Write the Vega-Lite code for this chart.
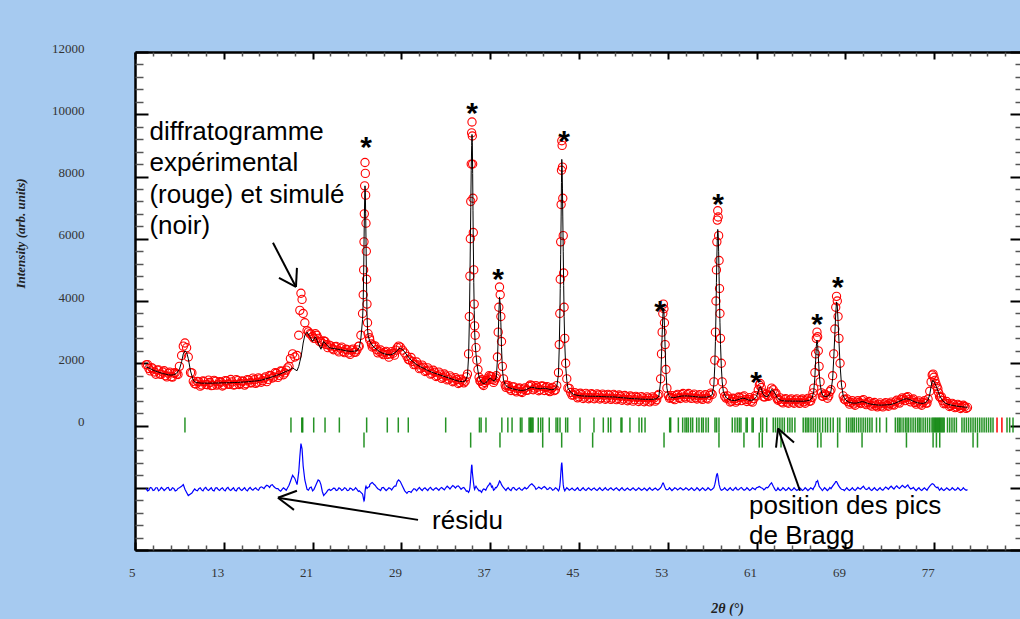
{
  "$schema": "https://vega.github.io/schema/vega-lite/v6.json",
  "width": 885,
  "height": 498,
  "autosize": {"type": "none"},
  "padding": {"left": 135, "top": 52, "right": 0, "bottom": 69},
  "config": {
    "background": "#a6caf0",
    "view": {"fill": "white", "stroke": null},
    "axis": {"grid": false}
  },
  "datasets": {
    "pat": [
      {"t":6.0,"o":1950,"c":1880,"d":-2020},{"t":6.25,"o":1830,"c":1850,"d":-2080},{"t":6.5,"o":1860,"c":1800,"d":-2010},{"t":6.75,"o":1720,"c":1760,"d":-2070},
      {"t":7.0,"o":1780,"c":1730,"d":-2000},{"t":7.25,"o":1650,"c":1700,"d":-2060},{"t":7.5,"o":1720,"c":1670,"d":-2030},{"t":7.75,"o":1600,"c":1650,"d":-2050},
      {"t":8.0,"o":1680,"c":1630,"d":-1990},{"t":8.25,"o":1570,"c":1620,"d":-2070},{"t":8.5,"o":1680,"c":1630,"d":-2020},{"t":8.75,"o":1650,"c":1680,"d":-2080},
      {"t":9.0,"o":1900,"c":1800,"d":-2000},{"t":9.2,"o":2250,"c":2050,"d":-1950},{"t":9.35,"o":2550,"c":2300,"d":-1900},{"t":9.5,"o":2650,"c":2400,"d":-2050},
      {"t":9.65,"o":2500,"c":2350,"d":-2150},{"t":9.8,"o":2200,"c":2150,"d":-2250},{"t":10.0,"o":1700,"c":1750,"d":-2200},{"t":10.25,"o":1420,"c":1450,"d":-2100},
      {"t":10.5,"o":1330,"c":1380,"d":-2080},{"t":10.75,"o":1400,"c":1370,"d":-2030},{"t":11.0,"o":1300,"c":1360,"d":-2070},{"t":11.25,"o":1410,"c":1360,"d":-2020},
      {"t":11.5,"o":1310,"c":1360,"d":-2060},{"t":11.75,"o":1380,"c":1360,"d":-2040},{"t":12.0,"o":1290,"c":1360,"d":-2080},{"t":12.25,"o":1420,"c":1365,"d":-2010},
      {"t":12.5,"o":1330,"c":1365,"d":-2060},{"t":12.75,"o":1390,"c":1370,"d":-2030},{"t":13.0,"o":1300,"c":1370,"d":-2070},{"t":13.25,"o":1430,"c":1372,"d":-2020},
      {"t":13.5,"o":1320,"c":1375,"d":-2060},{"t":13.75,"o":1400,"c":1378,"d":-2040},{"t":14.0,"o":1310,"c":1380,"d":-2080},{"t":14.25,"o":1440,"c":1385,"d":-2020},
      {"t":14.5,"o":1350,"c":1390,"d":-2060},{"t":14.75,"o":1420,"c":1395,"d":-2040},{"t":15.0,"o":1340,"c":1400,"d":-2070},{"t":15.25,"o":1460,"c":1410,"d":-2030},
      {"t":15.5,"o":1370,"c":1420,"d":-2050},{"t":15.75,"o":1470,"c":1428,"d":-2030},{"t":16.0,"o":1390,"c":1435,"d":-2060},{"t":16.25,"o":1500,"c":1450,"d":-2000},
      {"t":16.5,"o":1440,"c":1470,"d":-1990},{"t":16.75,"o":1560,"c":1495,"d":-1960},{"t":17.0,"o":1480,"c":1520,"d":-1940},{"t":17.25,"o":1600,"c":1550,"d":-1920},
      {"t":17.5,"o":1560,"c":1580,"d":-1960},{"t":17.75,"o":1680,"c":1610,"d":-2030},{"t":18.0,"o":1610,"c":1640,"d":-2080},{"t":18.25,"o":1740,"c":1680,"d":-2050},
      {"t":18.5,"o":1690,"c":1720,"d":-2040},{"t":18.75,"o":1850,"c":1760,"d":-2000},{"t":19.0,"o":2150,"c":1800,"d":-1800},{"t":19.2,"o":2300,"c":1850,"d":-1600},
      {"t":19.4,"o":2200,"c":1800,"d":-1700},{"t":19.6,"o":2250,"c":1760,"d":-1900},{"t":19.75,"o":2900,"c":1900,"d":-1500},{"t":19.85,"o":3700,"c":2050,"d":-1000},
      {"t":19.95,"o":4250,"c":2200,"d":-580},{"t":20.05,"o":4050,"c":2400,"d":-750},{"t":20.15,"o":3600,"c":2650,"d":-1300},{"t":20.3,"o":3300,"c":2900,"d":-1750},
      {"t":20.5,"o":3050,"c":3000,"d":-2050},{"t":20.75,"o":2950,"c":2850,"d":-2000},{"t":21.0,"o":2850,"c":2700,"d":-2100},{"t":21.25,"o":2950,"c":2850,"d":-1950},
      {"t":21.5,"o":2800,"c":2650,"d":-1750},{"t":21.75,"o":2700,"c":2450,"d":-1900},{"t":22.0,"o":2720,"c":2700,"d":-2250},{"t":22.25,"o":2600,"c":2600,"d":-2150},
      {"t":22.5,"o":2580,"c":2500,"d":-2050},{"t":22.75,"o":2480,"c":2480,"d":-2060},{"t":23.0,"o":2530,"c":2470,"d":-2020},{"t":23.25,"o":2420,"c":2450,"d":-2070},
      {"t":23.5,"o":2480,"c":2440,"d":-2030},{"t":23.75,"o":2380,"c":2420,"d":-2060},{"t":24.0,"o":2450,"c":2400,"d":-2020},{"t":24.25,"o":2330,"c":2390,"d":-2080},
      {"t":24.5,"o":2420,"c":2380,"d":-2030},{"t":24.75,"o":2350,"c":2390,"d":-2060},{"t":25.0,"o":2430,"c":2400,"d":-2050},{"t":25.2,"o":2550,"c":2500,"d":-2100},
      {"t":25.35,"o":2900,"c":2800,"d":-2150},{"t":25.5,"o":3600,"c":3400,"d":-2200},{"t":25.56,"o":4200,"c":4000,"d":-2300},{"t":25.6,"o":5000,"c":4900,"d":-2380},
      {"t":25.63,"o":5900,"c":5800,"d":-2420},{"t":25.66,"o":6800,"c":6600,"d":-2400},{"t":25.69,"o":7700,"c":7300,"d":-2300},{"t":25.72,"o":8450,"c":7700,"d":-2150},
      {"t":25.75,"o":8100,"c":7500,"d":-2050},{"t":25.78,"o":7400,"c":6800,"d":-1980},{"t":25.81,"o":6500,"c":6000,"d":-1950},{"t":25.84,"o":5600,"c":5100,"d":-1980},
      {"t":25.87,"o":4700,"c":4300,"d":-2000},{"t":25.9,"o":3900,"c":3600,"d":-2020},{"t":25.95,"o":3300,"c":3100,"d":-2000},{"t":26.0,"o":2950,"c":2900,"d":-1980},
      {"t":26.15,"o":2750,"c":2700,"d":-1900},{"t":26.3,"o":2620,"c":2620,"d":-1850},{"t":26.5,"o":2550,"c":2520,"d":-1880},{"t":26.75,"o":2440,"c":2450,"d":-1980},
      {"t":27.0,"o":2380,"c":2380,"d":-2060},{"t":27.25,"o":2320,"c":2330,"d":-2000},{"t":27.5,"o":2350,"c":2300,"d":-2040},{"t":27.75,"o":2280,"c":2280,"d":-2050},
      {"t":28.0,"o":2300,"c":2270,"d":-2020},{"t":28.25,"o":2320,"c":2300,"d":-2000},{"t":28.5,"o":2420,"c":2360,"d":-1950},{"t":28.75,"o":2550,"c":2460,"d":-1750},
      {"t":28.9,"o":2520,"c":2480,"d":-1800},{"t":29.1,"o":2420,"c":2440,"d":-1950},{"t":29.3,"o":2330,"c":2360,"d":-2100},{"t":29.5,"o":2220,"c":2260,"d":-2180},
      {"t":29.75,"o":2100,"c":2150,"d":-2120},{"t":30.0,"o":2060,"c":2060,"d":-2080},{"t":30.25,"o":1960,"c":1990,"d":-2050},{"t":30.5,"o":1950,"c":1930,"d":-2040},
      {"t":30.75,"o":1850,"c":1880,"d":-2050},{"t":31.0,"o":1870,"c":1840,"d":-2030},{"t":31.25,"o":1760,"c":1790,"d":-2050},{"t":31.5,"o":1780,"c":1750,"d":-2020},
      {"t":31.75,"o":1670,"c":1710,"d":-2050},{"t":32.0,"o":1710,"c":1680,"d":-2030},{"t":32.25,"o":1600,"c":1650,"d":-2040},{"t":32.5,"o":1650,"c":1620,"d":-2020},
      {"t":32.75,"o":1550,"c":1590,"d":-2030},{"t":33.0,"o":1590,"c":1560,"d":-2000},{"t":33.25,"o":1490,"c":1530,"d":-1990},{"t":33.5,"o":1530,"c":1500,"d":-1980},
      {"t":33.75,"o":1430,"c":1470,"d":-1960},{"t":34.0,"o":1470,"c":1440,"d":-1950},{"t":34.25,"o":1380,"c":1420,"d":-1990},{"t":34.5,"o":1430,"c":1410,"d":-2010},
      {"t":34.75,"o":1420,"c":1430,"d":-2050},{"t":34.95,"o":1650,"c":1600,"d":-2100},{"t":35.05,"o":2300,"c":2200,"d":-2150},{"t":35.12,"o":3500,"c":3300,"d":-2100},
      {"t":35.17,"o":4800,"c":4600,"d":-2000},{"t":35.21,"o":6000,"c":5800,"d":-1850},{"t":35.25,"o":7200,"c":7000,"d":-1650},{"t":35.29,"o":8400,"c":8200,"d":-1450},
      {"t":35.33,"o":9400,"c":9000,"d":-1260},{"t":35.36,"o":9750,"c":9350,"d":-1300},{"t":35.39,"o":9300,"c":9100,"d":-1500},{"t":35.42,"o":8400,"c":8100,"d":-1600},
      {"t":35.45,"o":7300,"c":6900,"d":-1700},{"t":35.48,"o":6200,"c":5800,"d":-1800},{"t":35.52,"o":5000,"c":4600,"d":-1900},{"t":35.56,"o":3900,"c":3700,"d":-2000},
      {"t":35.6,"o":3200,"c":3000,"d":-2050},{"t":35.65,"o":2900,"c":2600,"d":-2000},{"t":35.72,"o":2500,"c":2300,"d":-1950},{"t":35.8,"o":2100,"c":2000,"d":-2000},
      {"t":35.9,"o":1800,"c":1750,"d":-2050},{"t":36.0,"o":1550,"c":1550,"d":-2100},{"t":36.15,"o":1420,"c":1430,"d":-2120},{"t":36.3,"o":1330,"c":1360,"d":-2080},
      {"t":36.5,"o":1380,"c":1350,"d":-2050},{"t":36.7,"o":1450,"c":1400,"d":-2000},{"t":36.9,"o":1600,"c":1500,"d":-1900},{"t":37.05,"o":1580,"c":1520,"d":-1880},
      {"t":37.2,"o":1480,"c":1460,"d":-1950},{"t":37.4,"o":1450,"c":1430,"d":-2050},{"t":37.55,"o":1600,"c":1550,"d":-2000},{"t":37.65,"o":2200,"c":2100,"d":-1950},
      {"t":37.72,"o":3000,"c":2800,"d":-1900},{"t":37.78,"o":3800,"c":3600,"d":-1850},{"t":37.84,"o":4450,"c":4130,"d":-1780},{"t":37.9,"o":4200,"c":3900,"d":-1800},
      {"t":37.96,"o":3500,"c":3300,"d":-1850},{"t":38.02,"o":2700,"c":2500,"d":-1900},{"t":38.1,"o":1900,"c":1800,"d":-1950},{"t":38.2,"o":1500,"c":1450,"d":-2000},
      {"t":38.35,"o":1300,"c":1320,"d":-2060},{"t":38.5,"o":1280,"c":1250,"d":-2040},{"t":38.75,"o":1180,"c":1210,"d":-2060},{"t":39.0,"o":1240,"c":1180,"d":-2010},
      {"t":39.25,"o":1120,"c":1160,"d":-2050},{"t":39.5,"o":1180,"c":1140,"d":-2030},{"t":39.75,"o":1090,"c":1130,"d":-2060},{"t":40.0,"o":1170,"c":1130,"d":-2030},
      {"t":40.25,"o":1130,"c":1150,"d":-2040},{"t":40.5,"o":1260,"c":1200,"d":-1950},{"t":40.75,"o":1280,"c":1230,"d":-1870},{"t":41.0,"o":1200,"c":1210,"d":-1960},
      {"t":41.25,"o":1230,"c":1190,"d":-2020},{"t":41.5,"o":1150,"c":1180,"d":-2010},{"t":41.75,"o":1260,"c":1200,"d":-1990},{"t":42.0,"o":1220,"c":1190,"d":-2000},
      {"t":42.25,"o":1130,"c":1170,"d":-2040},{"t":42.5,"o":1180,"c":1150,"d":-2020},{"t":42.75,"o":1120,"c":1160,"d":-2060},{"t":43.0,"o":1280,"c":1250,"d":-2030},
      {"t":43.15,"o":1700,"c":1650,"d":-2100},{"t":43.22,"o":2600,"c":2500,"d":-2050},{"t":43.27,"o":3600,"c":3400,"d":-1950},{"t":43.31,"o":4700,"c":4400,"d":-1800},
      {"t":43.35,"o":5900,"c":5500,"d":-1600},{"t":43.39,"o":7100,"c":6700,"d":-1400},{"t":43.42,"o":8200,"c":7800,"d":-1250},{"t":43.45,"o":9150,"c":8550,"d":-1190},
      {"t":43.48,"o":9000,"c":8300,"d":-1300},{"t":43.51,"o":8300,"c":7600,"d":-1500},{"t":43.54,"o":7300,"c":6700,"d":-1700},{"t":43.58,"o":6100,"c":5600,"d":-1900},
      {"t":43.62,"o":4900,"c":4500,"d":-2000},{"t":43.66,"o":3800,"c":3500,"d":-2050},{"t":43.72,"o":2800,"c":2600,"d":-2100},{"t":43.8,"o":2000,"c":1900,"d":-2050},
      {"t":43.9,"o":1500,"c":1450,"d":-2000},{"t":44.0,"o":1200,"c":1200,"d":-2030},{"t":44.25,"o":1060,"c":1070,"d":-2050},{"t":44.5,"o":980,"c":1000,"d":-2060},
      {"t":44.75,"o":1010,"c":975,"d":-2040},{"t":45.0,"o":920,"c":960,"d":-2070},{"t":45.25,"o":990,"c":950,"d":-2040},{"t":45.5,"o":910,"c":945,"d":-2060},
      {"t":45.75,"o":985,"c":940,"d":-2040},{"t":46.0,"o":900,"c":940,"d":-2050},{"t":46.25,"o":990,"c":940,"d":-2030},{"t":46.5,"o":910,"c":935,"d":-2060},
      {"t":46.75,"o":980,"c":935,"d":-2040},{"t":47.0,"o":890,"c":930,"d":-2060},{"t":47.25,"o":970,"c":925,"d":-2040},{"t":47.5,"o":880,"c":922,"d":-2060},
      {"t":47.75,"o":970,"c":920,"d":-2030},{"t":48.0,"o":880,"c":920,"d":-2050},{"t":48.25,"o":960,"c":915,"d":-2030},{"t":48.5,"o":870,"c":905,"d":-2050},
      {"t":48.75,"o":940,"c":895,"d":-2040},{"t":49.0,"o":850,"c":890,"d":-2060},{"t":49.25,"o":920,"c":880,"d":-2040},{"t":49.5,"o":840,"c":872,"d":-2060},
      {"t":49.75,"o":910,"c":865,"d":-2040},{"t":50.0,"o":830,"c":860,"d":-2050},{"t":50.25,"o":900,"c":855,"d":-2050},{"t":50.5,"o":820,"c":850,"d":-2040},
      {"t":50.75,"o":890,"c":845,"d":-2060},{"t":51.0,"o":810,"c":840,"d":-2050},{"t":51.25,"o":880,"c":840,"d":-2040},{"t":51.5,"o":810,"c":840,"d":-2060},
      {"t":51.75,"o":880,"c":845,"d":-2040},{"t":52.0,"o":830,"c":860,"d":-2050},{"t":52.2,"o":1000,"c":950,"d":-2050},{"t":52.35,"o":1500,"c":1400,"d":-2000},
      {"t":52.43,"o":2300,"c":2200,"d":-1950},{"t":52.49,"o":3000,"c":2900,"d":-1900},{"t":52.55,"o":3600,"c":3500,"d":-1850},{"t":52.6,"o":3900,"c":3770,"d":-1850},
      {"t":52.65,"o":3750,"c":3650,"d":-1900},{"t":52.7,"o":3300,"c":3200,"d":-1950},{"t":52.76,"o":2600,"c":2500,"d":-2000},{"t":52.83,"o":1800,"c":1750,"d":-2050},
      {"t":52.92,"o":1200,"c":1200,"d":-2070},{"t":53.05,"o":960,"c":980,"d":-2050},{"t":53.25,"o":900,"c":910,"d":-2040},{"t":53.5,"o":870,"c":890,"d":-2050},
      {"t":53.75,"o":960,"c":910,"d":-2020},{"t":54.0,"o":900,"c":930,"d":-2040},{"t":54.25,"o":990,"c":945,"d":-2030},{"t":54.5,"o":920,"c":950,"d":-2050},
      {"t":54.75,"o":990,"c":950,"d":-2030},{"t":55.0,"o":910,"c":945,"d":-2050},{"t":55.25,"o":970,"c":935,"d":-2040},{"t":55.5,"o":890,"c":925,"d":-2060},
      {"t":55.75,"o":950,"c":915,"d":-2040},{"t":56.0,"o":880,"c":910,"d":-2050},{"t":56.25,"o":950,"c":910,"d":-2040},{"t":56.5,"o":880,"c":915,"d":-2060},
      {"t":56.75,"o":970,"c":930,"d":-2040},{"t":57.0,"o":1000,"c":990,"d":-2050},{"t":57.15,"o":1400,"c":1300,"d":-2000},{"t":57.23,"o":2100,"c":1900,"d":-1900},
      {"t":57.29,"o":3000,"c":2700,"d":-1800},{"t":57.34,"o":4000,"c":3600,"d":-1700},{"t":57.38,"o":5000,"c":4600,"d":-1620},{"t":57.42,"o":5900,"c":5400,"d":-1560},
      {"t":57.46,"o":6600,"c":6000,"d":-1550},{"t":57.5,"o":6900,"c":6300,"d":-1600},{"t":57.54,"o":6700,"c":6150,"d":-1700},{"t":57.58,"o":6100,"c":5600,"d":-1800},
      {"t":57.62,"o":5300,"c":4800,"d":-1900},{"t":57.66,"o":4400,"c":4000,"d":-1950},{"t":57.7,"o":3600,"c":3300,"d":-2000},{"t":57.75,"o":2800,"c":2600,"d":-2050},
      {"t":57.82,"o":2000,"c":1900,"d":-2080},{"t":57.9,"o":1400,"c":1400,"d":-2070},{"t":58.0,"o":1100,"c":1100,"d":-2050},{"t":58.25,"o":880,"c":900,"d":-2060},
      {"t":58.5,"o":850,"c":840,"d":-2040},{"t":58.75,"o":780,"c":810,"d":-2060},{"t":59.0,"o":850,"c":800,"d":-2030},{"t":59.25,"o":800,"c":820,"d":-2060},
      {"t":59.5,"o":900,"c":850,"d":-2020},{"t":59.75,"o":920,"c":880,"d":-2040},{"t":60.0,"o":830,"c":860,"d":-2060},{"t":60.25,"o":840,"c":820,"d":-2040},
      {"t":60.5,"o":780,"c":810,"d":-2060},{"t":60.75,"o":860,"c":830,"d":-2030},{"t":61.0,"o":950,"c":930,"d":-2000},{"t":61.15,"o":1150,"c":1100,"d":-1980},
      {"t":61.25,"o":1300,"c":1220,"d":-1960},{"t":61.33,"o":1350,"c":1250,"d":-1980},{"t":61.42,"o":1220,"c":1180,"d":-2000},{"t":61.55,"o":1050,"c":1030,"d":-2020},
      {"t":61.75,"o":920,"c":940,"d":-2040},{"t":62.0,"o":960,"c":930,"d":-2000},{"t":62.2,"o":1080,"c":1040,"d":-1900},{"t":62.35,"o":1200,"c":1160,"d":-1840},
      {"t":62.5,"o":1150,"c":1120,"d":-1950},{"t":62.65,"o":1020,"c":1030,"d":-2050},{"t":62.85,"o":870,"c":900,"d":-2060},{"t":63.0,"o":840,"c":840,"d":-2050},
      {"t":63.25,"o":760,"c":800,"d":-2060},{"t":63.5,"o":830,"c":790,"d":-2040},{"t":63.75,"o":750,"c":785,"d":-2060},{"t":64.0,"o":820,"c":785,"d":-2040},
      {"t":64.25,"o":750,"c":785,"d":-2060},{"t":64.5,"o":820,"c":785,"d":-2050},{"t":64.75,"o":750,"c":782,"d":-2060},{"t":65.0,"o":810,"c":780,"d":-2040},
      {"t":65.25,"o":760,"c":782,"d":-2060},{"t":65.5,"o":820,"c":790,"d":-2040},{"t":65.75,"o":780,"c":810,"d":-2050},{"t":66.0,"o":900,"c":880,"d":-2030},
      {"t":66.15,"o":1200,"c":1100,"d":-2000},{"t":66.25,"o":1700,"c":1550,"d":-1950},{"t":66.32,"o":2300,"c":2100,"d":-1880},{"t":66.38,"o":2800,"c":2550,"d":-1800},
      {"t":66.44,"o":3000,"c":2740,"d":-1800},{"t":66.5,"o":2850,"c":2600,"d":-1770},{"t":66.56,"o":2400,"c":2200,"d":-1850},{"t":66.63,"o":1900,"c":1750,"d":-1950},
      {"t":66.72,"o":1400,"c":1350,"d":-2000},{"t":66.85,"o":1050,"c":1050,"d":-2050},{"t":67.0,"o":940,"c":950,"d":-2060},{"t":67.25,"o":980,"c":930,"d":-2040},
      {"t":67.5,"o":950,"c":960,"d":-2050},{"t":67.7,"o":1150,"c":1100,"d":-2030},{"t":67.85,"o":1600,"c":1500,"d":-1950},{"t":67.95,"o":2300,"c":2150,"d":-1900},
      {"t":68.05,"o":3100,"c":2950,"d":-1850},{"t":68.13,"o":3800,"c":3600,"d":-1800},{"t":68.2,"o":4150,"c":3970,"d":-1800},{"t":68.27,"o":4000,"c":3850,"d":-1850},
      {"t":68.34,"o":3500,"c":3350,"d":-1900},{"t":68.42,"o":2800,"c":2700,"d":-1950},{"t":68.52,"o":2000,"c":1950,"d":-2000},{"t":68.65,"o":1300,"c":1300,"d":-2050},
      {"t":68.8,"o":950,"c":960,"d":-2060},{"t":69.0,"o":820,"c":830,"d":-2050},{"t":69.25,"o":760,"c":760,"d":-2060},{"t":69.5,"o":740,"c":730,"d":-2050},
      {"t":69.75,"o":690,"c":720,"d":-2060},{"t":70.0,"o":750,"c":720,"d":-2040},{"t":70.25,"o":740,"c":740,"d":-2030},{"t":70.5,"o":800,"c":770,"d":-1990},
      {"t":70.75,"o":720,"c":750,"d":-2020},{"t":71.0,"o":730,"c":710,"d":-2040},{"t":71.25,"o":660,"c":690,"d":-2060},{"t":71.5,"o":700,"c":675,"d":-2040},
      {"t":71.75,"o":640,"c":665,"d":-2060},{"t":72.0,"o":680,"c":655,"d":-2040},{"t":72.25,"o":630,"c":655,"d":-2060},{"t":72.5,"o":690,"c":660,"d":-2030},
      {"t":72.75,"o":650,"c":665,"d":-2010},{"t":73.0,"o":700,"c":670,"d":-1990},{"t":73.25,"o":680,"c":690,"d":-2000},{"t":73.5,"o":760,"c":720,"d":-1980},
      {"t":73.75,"o":750,"c":760,"d":-1990},{"t":74.0,"o":830,"c":800,"d":-1970},{"t":74.25,"o":850,"c":840,"d":-1960},{"t":74.5,"o":900,"c":860,"d":-1950},
      {"t":74.75,"o":830,"c":840,"d":-1990},{"t":75.0,"o":820,"c":800,"d":-2020},{"t":75.25,"o":740,"c":760,"d":-2050},{"t":75.5,"o":750,"c":730,"d":-2040},
      {"t":75.75,"o":690,"c":715,"d":-2060},{"t":76.0,"o":740,"c":710,"d":-2040},{"t":76.25,"o":720,"c":740,"d":-2050},{"t":76.45,"o":850,"c":820,"d":-2020},
      {"t":76.6,"o":1100,"c":1000,"d":-1950},{"t":76.72,"o":1400,"c":1250,"d":-1900},{"t":76.82,"o":1620,"c":1430,"d":-1870},{"t":76.9,"o":1650,"c":1450,"d":-1880},
      {"t":76.98,"o":1550,"c":1400,"d":-1900},{"t":77.06,"o":1450,"c":1350,"d":-1950},{"t":77.15,"o":1350,"c":1280,"d":-1980},{"t":77.25,"o":1250,"c":1200,"d":-2000},
      {"t":77.4,"o":1050,"c":1050,"d":-2030},{"t":77.55,"o":900,"c":920,"d":-2050},{"t":77.75,"o":800,"c":800,"d":-2060},{"t":78.0,"o":720,"c":720,"d":-2050},
      {"t":78.25,"o":700,"c":680,"d":-2040},{"t":78.5,"o":640,"c":660,"d":-2060},{"t":78.75,"o":670,"c":640,"d":-2040},{"t":79.0,"o":600,"c":625,"d":-2060},
      {"t":79.25,"o":640,"c":610,"d":-2040},{"t":79.5,"o":580,"c":600,"d":-2060},{"t":79.75,"o":610,"c":590,"d":-2050},{"t":80.0,"o":580,"c":585,"d":-2060},
      {"t":6.125,"o":1955,"d":-2100},{"t":6.375,"o":1755,"d":-1990},{"t":6.625,"o":1820,"d":-2090},{"t":6.875,"o":1645,"d":-2000},
      {"t":7.125,"o":1785,"d":-2100},{"t":7.375,"o":1645,"d":-1990},{"t":7.625,"o":1760,"d":-2090},{"t":7.875,"o":1560,"d":-2000},
      {"t":8.125,"o":1715,"d":-2080},{"t":8.375,"o":1555,"d":-2000},{"t":8.625,"o":1695,"d":-2100},{"t":8.875,"o":1640,"d":-2020},
      {"t":10.125,"o":1690,"d":-2170},{"t":10.375,"o":1345,"d":-2040},{"t":10.625,"o":1415,"d":-2100},{"t":10.875,"o":1265,"d":-2000},
      {"t":11.125,"o":1430,"d":-2100},{"t":11.375,"o":1320,"d":-1990},{"t":11.625,"o":1460,"d":-2090},{"t":11.875,"o":1280,"d":-2000},
      {"t":12.125,"o":1452,"d":-2100},{"t":12.375,"o":1295,"d":-1995},{"t":12.625,"o":1408,"d":-2090},{"t":12.875,"o":1270,"d":-2000},
      {"t":13.125,"o":1441,"d":-2100},{"t":13.375,"o":1334,"d":-1990},{"t":13.625,"o":1477,"d":-2090},{"t":13.875,"o":1299,"d":-2000},
      {"t":14.125,"o":1473,"d":-2100},{"t":14.375,"o":1318,"d":-1995},{"t":14.625,"o":1433,"d":-2090},{"t":14.875,"o":1298,"d":-2000},
      {"t":15.125,"o":1475,"d":-2100},{"t":15.375,"o":1375,"d":-1990},{"t":15.625,"o":1524,"d":-2080},{"t":15.875,"o":1352,"d":-2000},
      {"t":16.125,"o":1532,"d":-2080},{"t":16.375,"o":1390,"d":-1970},{"t":16.625,"o":1522,"d":-2030},{"t":16.875,"o":1408,"d":-1920},
      {"t":17.125,"o":1605,"d":-1990},{"t":17.375,"o":1525,"d":-1900},{"t":17.625,"o":1695,"d":-2000},{"t":17.875,"o":1545,"d":-2030},
      {"t":18.125,"o":1750,"d":-2110},{"t":18.375,"o":1630,"d":-2000},{"t":18.625,"o":1780,"d":-2080},{"t":18.875,"o":1900,"d":-1920},
      {"t":20.625,"o":3010,"d":-2080},{"t":20.875,"o":2935,"d":-1980},{"t":21.125,"o":2800,"d":-2050},{"t":21.375,"o":2900,"d":-1850},
      {"t":21.625,"o":2700,"d":-1780},{"t":21.875,"o":2640,"d":-2120},{"t":22.125,"o":2700,"d":-2200},{"t":22.375,"o":2500,"d":-2080},
      {"t":22.625,"o":2560,"d":-2090},{"t":22.875,"o":2435,"d":-2010},{"t":23.125,"o":2540,"d":-2090},{"t":23.375,"o":2365,"d":-2000},
      {"t":23.625,"o":2520,"d":-2090},{"t":23.875,"o":2340,"d":-2000},{"t":24.125,"o":2435,"d":-2090},{"t":24.375,"o":2285,"d":-2010},
      {"t":24.625,"o":2455,"d":-2080},{"t":24.875,"o":2355,"d":-2000},{"t":25.125,"o":2540,"d":-2120},
      {"t":26.125,"o":2820,"d":-1960},{"t":26.375,"o":2520,"d":-1830},{"t":26.625,"o":2560,"d":-1920},{"t":26.875,"o":2335,"d":-2030},
      {"t":27.125,"o":2425,"d":-2090},{"t":27.375,"o":2275,"d":-1990},{"t":27.625,"o":2380,"d":-2090},{"t":27.875,"o":2195,"d":-2000},
      {"t":28.125,"o":2375,"d":-2070},{"t":28.375,"o":2260,"d":-1950},{"t":28.625,"o":2500,"d":-1800},
      {"t":29.625,"o":2125,"d":-2120},{"t":29.875,"o":2185,"d":-2150},{"t":30.125,"o":1955,"d":-2030},{"t":30.375,"o":2040,"d":-2100},
      {"t":30.625,"o":1825,"d":-1990},{"t":30.875,"o":1940,"d":-2090},{"t":31.125,"o":1735,"d":-2000},{"t":31.375,"o":1850,"d":-2090},
      {"t":31.625,"o":1650,"d":-1990},{"t":31.875,"o":1775,"d":-2080},{"t":32.125,"o":1575,"d":-2000},{"t":32.375,"o":1715,"d":-2080},
      {"t":32.625,"o":1515,"d":-1990},{"t":32.875,"o":1655,"d":-2070},{"t":33.125,"o":1465,"d":-1950},{"t":33.375,"o":1595,"d":-2040},
      {"t":33.625,"o":1405,"d":-1930},{"t":33.875,"o":1535,"d":-2010},{"t":34.125,"o":1350,"d":-1940},{"t":34.375,"o":1485,"d":-2050},
      {"t":34.625,"o":1370,"d":-1990},{"t":34.85,"o":1560,"d":-2110},
      {"t":36.075,"o":1430,"d":-2080},{"t":36.225,"o":1470,"d":-2150},{"t":36.4,"o":1285,"d":-2040},{"t":36.6,"o":1445,"d":-2080},
      {"t":36.8,"o":1520,"d":-1940},{"t":36.98,"o":1480,"d":-1850},{"t":37.12,"o":1560,"d":-1980},{"t":37.3,"o":1385,"d":-2080},{"t":37.48,"o":1530,"d":-1990},
      {"t":38.42,"o":1225,"d":-2090},{"t":38.62,"o":1290,"d":-2000},{"t":38.875,"o":1125,"d":-2090},{"t":39.125,"o":1240,"d":-1990},
      {"t":39.375,"o":1080,"d":-2080},{"t":39.625,"o":1205,"d":-2000},{"t":39.875,"o":1060,"d":-2080},{"t":40.125,"o":1210,"d":-1990},
      {"t":40.375,"o":1135,"d":-2010},{"t":40.625,"o":1305,"d":-1900},{"t":40.875,"o":1150,"d":-1920},{"t":41.125,"o":1280,"d":-2050},
      {"t":41.375,"o":1115,"d":-1980},{"t":41.625,"o":1270,"d":-2040},{"t":41.875,"o":1125,"d":-1960},{"t":42.125,"o":1250,"d":-2060},
      {"t":42.375,"o":1090,"d":-1990},{"t":42.625,"o":1225,"d":-2080},{"t":42.875,"o":1145,"d":-2000},
      {"t":44.125,"o":1195,"d":-2080},{"t":44.375,"o":975,"d":-2010},{"t":44.625,"o":1058,"d":-2090},{"t":44.875,"o":888,"d":-2000},
      {"t":45.125,"o":1035,"d":-2090},{"t":45.375,"o":868,"d":-2000},{"t":45.625,"o":1032,"d":-2090},{"t":45.875,"o":860,"d":-2000},
      {"t":46.125,"o":1020,"d":-2080},{"t":46.375,"o":858,"d":-2010},{"t":46.625,"o":1015,"d":-2090},{"t":46.875,"o":852,"d":-2000},
      {"t":47.125,"o":1008,"d":-2090},{"t":47.375,"o":843,"d":-2000},{"t":47.625,"o":1001,"d":-2080},{"t":47.875,"o":840,"d":-2000},
      {"t":48.125,"o":998,"d":-2080},{"t":48.375,"o":830,"d":-2000},{"t":48.625,"o":980,"d":-2090},{"t":48.875,"o":812,"d":-2000},
      {"t":49.125,"o":965,"d":-2090},{"t":49.375,"o":796,"d":-2010},{"t":49.625,"o":948,"d":-2080},{"t":49.875,"o":782,"d":-2000},
      {"t":50.125,"o":937,"d":-2090},{"t":50.375,"o":772,"d":-2000},{"t":50.625,"o":927,"d":-2080},{"t":50.875,"o":762,"d":-2010},
      {"t":51.125,"o":920,"d":-2090},{"t":51.375,"o":760,"d":-2000},{"t":51.625,"o":922,"d":-2080},{"t":51.875,"o":782,"d":-2010},{"t":52.1,"o":960,"d":-2080},
      {"t":53.15,"o":875,"d":-2000},{"t":53.375,"o":960,"d":-2090},{"t":53.625,"o":830,"d":-2000},{"t":53.875,"o":1000,"d":-2070},
      {"t":54.125,"o":868,"d":-2000},{"t":54.375,"o":1028,"d":-2070},{"t":54.625,"o":880,"d":-2000},{"t":54.875,"o":1028,"d":-2080},
      {"t":55.125,"o":870,"d":-2000},{"t":55.375,"o":1010,"d":-2090},{"t":55.625,"o":850,"d":-2000},{"t":55.875,"o":992,"d":-2090},
      {"t":56.125,"o":840,"d":-2000},{"t":56.375,"o":992,"d":-2090},{"t":56.625,"o":852,"d":-2000},{"t":56.875,"o":1040,"d":-2080},
      {"t":58.125,"o":940,"d":-2000},{"t":58.375,"o":950,"d":-2090},{"t":58.625,"o":755,"d":-2000},{"t":58.875,"o":875,"d":-2090},
      {"t":59.125,"o":750,"d":-1990},{"t":59.375,"o":915,"d":-2070},{"t":59.625,"o":800,"d":-1990},{"t":59.875,"o":950,"d":-2080},
      {"t":60.125,"o":770,"d":-2000},{"t":60.375,"o":895,"d":-2090},{"t":60.625,"o":750,"d":-2000},{"t":60.875,"o":960,"d":-2060},
      {"t":61.65,"o":920,"d":-2070},{"t":61.875,"o":1005,"d":-1990},{"t":62.1,"o":940,"d":-1960},{"t":62.75,"o":1035,"d":-2090},
      {"t":62.925,"o":810,"d":-2000},{"t":63.125,"o":890,"d":-2090},{"t":63.375,"o":725,"d":-2000},{"t":63.625,"o":858,"d":-2090},
      {"t":63.875,"o":715,"d":-2000},{"t":64.125,"o":855,"d":-2090},{"t":64.375,"o":715,"d":-2000},{"t":64.625,"o":854,"d":-2090},
      {"t":64.875,"o":711,"d":-2000},{"t":65.125,"o":851,"d":-2090},{"t":65.375,"o":716,"d":-2000},{"t":65.625,"o":870,"d":-2090},
      {"t":65.875,"o":785,"d":-2000},{"t":66.075,"o":1050,"d":-2060},
      {"t":66.92,"o":940,"d":-2090},{"t":67.125,"o":1010,"d":-2000},{"t":67.375,"o":875,"d":-2090},{"t":67.6,"o":1090,"d":-1990},
      {"t":68.9,"o":845,"d":-2090},{"t":69.125,"o":855,"d":-2000},{"t":69.375,"o":685,"d":-2090},{"t":69.625,"o":795,"d":-2000},
      {"t":69.875,"o":650,"d":-2090},{"t":70.125,"o":800,"d":-1990},{"t":70.375,"o":705,"d":-2040},{"t":70.625,"o":830,"d":-1950},
      {"t":70.875,"o":670,"d":-2060},{"t":71.125,"o":770,"d":-1990},{"t":71.375,"o":622,"d":-2090},{"t":71.625,"o":740,"d":-2000},
      {"t":71.875,"o":600,"d":-2090},{"t":72.125,"o":725,"d":-2000},{"t":72.375,"o":597,"d":-2080},{"t":72.625,"o":732,"d":-1980},
      {"t":72.875,"o":617,"d":-2050},{"t":73.125,"o":750,"d":-1950},{"t":73.375,"o":655,"d":-2040},{"t":73.625,"o":810,"d":-1940},
      {"t":73.875,"o":720,"d":-2020},{"t":74.125,"o":890,"d":-1920},{"t":74.375,"o":800,"d":-2000},{"t":74.625,"o":930,"d":-1910},
      {"t":74.875,"o":760,"d":-2040},{"t":75.125,"o":850,"d":-1990},{"t":75.375,"o":685,"d":-2090},{"t":75.625,"o":792,"d":-2000},
      {"t":75.875,"o":652,"d":-2090},{"t":76.125,"o":795,"d":-2000},{"t":76.35,"o":720,"d":-2080},
      {"t":77.33,"o":1180,"d":-1980},{"t":77.48,"o":930,"d":-2080},{"t":77.65,"o":920,"d":-2010},{"t":77.875,"o":700,"d":-2090},
      {"t":78.125,"o":770,"d":-2000},{"t":78.375,"o":610,"d":-2080},{"t":78.625,"o":710,"d":-2000},{"t":78.875,"o":572,"d":-2080},
      {"t":79.125,"o":678,"d":-2000},{"t":79.375,"o":545,"d":-2090},{"t":79.625,"o":650,"d":-2000},{"t":79.875,"o":548,"d":-2080}
    ],
    "bragg": [
      {"t":9.5,"r":1},{"t":19.05,"r":1},{"t":20.02,"r":1},{"t":20.11,"r":1},{"t":21.1,"r":1},{"t":22.12,"r":1},{"t":23.41,"r":1},{"t":25.87,"r":1},
      {"t":27.73,"r":1},{"t":28.72,"r":1},{"t":29.62,"r":1},{"t":32.99,"r":1},{"t":36.03,"r":1},{"t":36.18,"r":1},{"t":36.62,"r":1},{"t":38.05,"r":1},
      {"t":38.59,"r":1},{"t":38.97,"r":1},{"t":39.72,"r":1},{"t":39.86,"r":1},{"t":40.5,"r":1},{"t":40.6,"r":1},{"t":40.68,"r":1},{"t":40.77,"r":1},
      {"t":40.86,"r":1},{"t":41.33,"r":1},{"t":41.55,"r":1},{"t":41.73,"r":1},{"t":42.32,"r":1},{"t":42.93,"r":1},{"t":43.08,"r":1},{"t":43.29,"r":1},
      {"t":43.8,"r":1},{"t":43.98,"r":1},{"t":45.09,"r":1},{"t":46.35,"r":1},{"t":47.19,"r":1},{"t":47.64,"r":1},{"t":47.86,"r":1},{"t":48.78,"r":1},
      {"t":48.87,"r":1},{"t":49.59,"r":1},{"t":50.41,"r":1},{"t":50.65,"r":1},{"t":50.95,"r":1},{"t":53.17,"r":1},{"t":53.26,"r":1},{"t":53.95,"r":1},
      {"t":54.34,"r":1},{"t":54.55,"r":1},{"t":54.7,"r":1},{"t":54.85,"r":1},{"t":55.06,"r":1},{"t":55.24,"r":1},{"t":55.6,"r":1},{"t":55.81,"r":1},
      {"t":56.05,"r":1},{"t":56.2,"r":1},{"t":56.44,"r":1},{"t":56.65,"r":1},{"t":57.25,"r":1},{"t":57.4,"r":1},{"t":57.61,"r":1},{"t":58.81,"r":1},
      {"t":59.05,"r":1},{"t":59.26,"r":1},{"t":59.44,"r":1},{"t":59.59,"r":1},{"t":60.05,"r":1},{"t":60.16,"r":1},{"t":60.59,"r":1},{"t":60.7,"r":1},
      {"t":61.37,"r":1},{"t":61.55,"r":1},{"t":61.91,"r":1},{"t":62.5,"r":1},{"t":62.7,"r":1},{"t":62.9,"r":1},{"t":63.1,"r":1},{"t":63.3,"r":1},
      {"t":63.5,"r":1},{"t":63.8,"r":1},{"t":64.0,"r":1},{"t":64.2,"r":1},{"t":64.45,"r":1},{"t":65.2,"r":1},{"t":65.4,"r":1},{"t":65.55,"r":1},
      {"t":65.7,"r":1},{"t":65.9,"r":1},{"t":66.1,"r":1},{"t":66.3,"r":1},{"t":66.5,"r":1},{"t":66.7,"r":1},{"t":66.95,"r":1},{"t":67.2,"r":1},
      {"t":67.4,"r":1},{"t":67.65,"r":1},{"t":67.9,"r":1},{"t":68.3,"r":1},{"t":68.5,"r":1},{"t":69.1,"r":1},{"t":69.3,"r":1},{"t":69.5,"r":1},
      {"t":69.65,"r":1},{"t":69.8,"r":1},{"t":70.0,"r":1},{"t":70.2,"r":1},{"t":70.4,"r":1},{"t":70.6,"r":1},{"t":70.8,"r":1},{"t":71.0,"r":1},
      {"t":71.2,"r":1},{"t":71.4,"r":1},{"t":71.8,"r":1},{"t":72.1,"r":1},{"t":72.7,"r":1},{"t":73.5,"r":1},{"t":73.7,"r":1},{"t":73.85,"r":1},
      {"t":74.0,"r":1},{"t":74.2,"r":1},{"t":74.4,"r":1},{"t":74.55,"r":1},{"t":74.7,"r":1},{"t":74.9,"r":1},{"t":75.1,"r":1},{"t":75.3,"r":1},
      {"t":75.5,"r":1},{"t":75.65,"r":1},{"t":75.8,"r":1},{"t":76.0,"r":1},{"t":76.2,"r":1},{"t":76.4,"r":1},{"t":76.6,"r":1},{"t":76.8,"r":1},
      {"t":76.9,"r":1},{"t":77.0,"r":1},{"t":77.1,"r":1},{"t":77.2,"r":1},{"t":77.3,"r":1},{"t":77.4,"r":1},{"t":77.5,"r":1},{"t":77.6,"r":1},
      {"t":77.7,"r":1},{"t":77.8,"r":1},{"t":77.9,"r":1},{"t":78.2,"r":1},{"t":78.4,"r":1},{"t":78.6,"r":1},{"t":78.8,"r":1},{"t":79.0,"r":1},
      {"t":79.5,"r":1},{"t":79.7,"r":1},{"t":79.9,"r":1},{"t":80.1,"r":1},{"t":80.3,"r":1},{"t":80.5,"r":1},{"t":80.7,"r":1},{"t":80.9,"r":1},
      {"t":81.1,"r":1},{"t":81.3,"r":1},{"t":81.5,"r":1},{"t":81.7,"r":1},{"t":81.9,"r":1},{"t":82.1,"r":1},{"t":82.3,"r":1},{"t":83.56,"r":1},
      {"t":83.8,"r":1},{"t":84.1,"r":1},
      {"t":82.66,"r":3},{"t":83.1,"r":3},
      {"t":25.63,"r":2},{"t":35.24,"r":2},{"t":37.88,"r":2},{"t":41.73,"r":2},{"t":43.44,"r":2},{"t":46.23,"r":2},{"t":52.66,"r":2},{"t":57.61,"r":2},
      {"t":59.86,"r":2},{"t":61.24,"r":2},{"t":61.51,"r":2},{"t":63.2,"r":2},{"t":66.5,"r":2},{"t":66.8,"r":2},{"t":68.3,"r":2},{"t":70.5,"r":2},
      {"t":74.5,"r":2},{"t":76.9,"r":2},{"t":77.2,"r":2},{"t":77.5,"r":2},{"t":80.5,"r":2},{"t":80.9,"r":2}
    ],
    "notes": [
      {"t":25.81,"I":8613,"txt":"*","k":"star"},{"t":35.36,"I":9710,"txt":"*","k":"star"},{"t":37.7,"I":4387,"txt":"*","k":"star"},
      {"t":43.65,"I":8806,"txt":"*","k":"star"},{"t":52.3,"I":3355,"txt":"*","k":"star"},{"t":57.52,"I":6806,"txt":"*","k":"star"},
      {"t":60.95,"I":1065,"txt":"*","k":"star"},{"t":66.44,"I":2935,"txt":"*","k":"star"},{"t":68.33,"I":4129,"txt":"*","k":"star"},
      {"t":6.3,"I":9161,"txt":"diffratogramme","k":"note"},{"t":6.3,"I":8161,"txt":"expérimental","k":"note"},
      {"t":6.3,"I":7161,"txt":"(rouge) et simulé","k":"note"},{"t":6.3,"I":6161,"txt":"(noir)","k":"note"},
      {"t":31.76,"I":-3323,"txt":"résidu","k":"note"},
      {"t":60.32,"I":-2839,"txt":"position des pics","k":"note"},{"t":60.32,"I":-3806,"txt":"de Bragg","k":"note"}
    ],
    "arrows": [
      {"x1":17.43,"y1":5871,"x2":19.5,"y2":4452},{"x1":19.5,"y1":4452,"x2":17.97,"y2":4742},{"x1":19.5,"y1":4452,"x2":19.59,"y2":5065},
      {"x1":30.5,"y1":-3032,"x2":17.88,"y2":-2323},{"x1":17.88,"y1":-2323,"x2":19.59,"y2":-2097},{"x1":17.88,"y1":-2323,"x2":19.32,"y2":-2710},
      {"x1":64.91,"y1":-2097,"x2":62.93,"y2":-97},{"x1":62.93,"y1":-97,"x2":62.75,"y2":-710},{"x1":62.93,"y1":-97,"x2":64.37,"y2":-548}
    ]
  },
  "resolve": {"axis": {"x": "independent", "y": "independent"}},
  "layer": [
    {
      "data": {"name": "pat"},
      "mark": {"type": "point", "shape": "circle", "filled": false, "stroke": "#ff0000", "strokeWidth": 1.1, "size": 68, "opacity": 1},
      "encoding": {
        "x": {"field": "t", "type": "quantitative", "scale": {"domain": [5, 84.73], "nice": false, "zero": false},
          "axis": {"orient": "bottom", "values": [5, 13, 21, 29, 37, 45, 53, 61, 69, 77], "ticks": false, "domain": true, "domainColor": "black", "domainWidth": 2.5,
            "labelFont": "Liberation Serif", "labelFontSize": 13, "labelColor": "#333333", "labelAlign": "right", "labelBaseline": "alphabetic", "labelPadding": 26,
            "labelFlush": false, "labelOverlap": false, "format": "d",
            "title": "2θ (°)", "titleFont": "Liberation Serif", "titleFontSize": 14, "titleFontStyle": "italic", "titleFontWeight": "bold", "titleColor": "#222222",
            "titleX": 592, "titleY": 58, "titleAlign": "center", "titleBaseline": "middle"}},
        "y": {"field": "o", "type": "quantitative", "scale": {"domain": [-4000, 12000], "nice": false, "zero": false},
          "axis": {"orient": "left", "values": [0, 2000, 4000, 6000, 8000, 10000, 12000], "ticks": false, "domain": true, "domainColor": "black", "domainWidth": 2.5,
            "labelFont": "Liberation Serif", "labelFontSize": 13, "labelColor": "#333333", "labelAlign": "right", "labelBaseline": "alphabetic", "labelPadding": 51,
            "labelFlush": false, "labelOverlap": false, "format": "d",
            "title": "Intensity (arb. units)", "titleFont": "Liberation Serif", "titleFontSize": 13, "titleFontStyle": "italic", "titleFontWeight": "bold", "titleColor": "#222222",
            "titleX": -115, "titleY": 181, "titleAlign": "center", "titleBaseline": "middle", "titleAngle": -90}}
      }
    },
    {
      "data": {"name": "pat"},
      "transform": [{"filter": "isValid(datum.c)"}],
      "mark": {"type": "line", "color": "black", "strokeWidth": 1},
      "encoding": {
        "x": {"field": "t", "type": "quantitative", "scale": {"domain": [5, 84.73], "nice": false, "zero": false},
          "axis": {"orient": "bottom", "values": [5, 13, 21, 29, 37, 45, 53, 61, 69, 77], "labels": false, "domain": false, "title": null, "tickSize": -8, "tickWidth": 2, "tickColor": "black"}},
        "y": {"field": "c", "type": "quantitative", "scale": {"domain": [-4000, 12000], "nice": false, "zero": false},
          "axis": {"orient": "left", "values": [-4000, -2000, 0, 2000, 4000, 6000, 8000, 10000, 12000], "labels": false, "domain": false, "title": null, "tickSize": -13, "tickWidth": 2, "tickColor": "black"}}
      }
    },
    {
      "data": {"name": "bragg"},
      "transform": [{"filter": "datum.r === 1"}],
      "mark": {"type": "rule", "color": "#008000", "strokeWidth": 1.5, "opacity": 0.85},
      "encoding": {
        "x": {"field": "t", "type": "quantitative", "scale": {"domain": [5, 84.73], "nice": false, "zero": false}, "axis": null},
        "y": {"datum": 258, "type": "quantitative", "scale": {"domain": [-4000, 12000], "nice": false, "zero": false}, "axis": null},
        "y2": {"datum": -226}
      }
    },
    {
      "data": {"name": "bragg"},
      "transform": [{"filter": "datum.r === 2"}],
      "mark": {"type": "rule", "color": "#008000", "strokeWidth": 1.5, "opacity": 0.85},
      "encoding": {
        "x": {"field": "t", "type": "quantitative", "scale": {"domain": [5, 84.73], "nice": false, "zero": false}, "axis": null},
        "y": {"datum": -226, "type": "quantitative", "scale": {"domain": [-4000, 12000], "nice": false, "zero": false}, "axis": null},
        "y2": {"datum": -710}
      }
    },
    {
      "data": {"name": "bragg"},
      "transform": [{"filter": "datum.r === 3"}],
      "mark": {"type": "rule", "color": "#ff0000", "strokeWidth": 1.5},
      "encoding": {
        "x": {"field": "t", "type": "quantitative", "scale": {"domain": [5, 84.73], "nice": false, "zero": false}, "axis": null},
        "y": {"datum": 258, "type": "quantitative", "scale": {"domain": [-4000, 12000], "nice": false, "zero": false}, "axis": null},
        "y2": {"datum": -226}
      }
    },
    {
      "data": {"name": "pat"},
      "mark": {"type": "line", "color": "#0000ff", "strokeWidth": 1.2},
      "encoding": {
        "x": {"field": "t", "type": "quantitative", "scale": {"domain": [5, 84.73], "nice": false, "zero": false},
          "axis": {"orient": "bottom", "values": [6.6, 8.2, 9.8, 11.4, 14.6, 16.2, 17.8, 19.4, 22.6, 24.2, 25.8, 27.4, 30.6, 32.2, 33.8, 35.4, 38.6, 40.2, 41.8, 43.4, 46.6, 48.2, 49.8, 51.4, 54.6, 56.2, 57.8, 59.4, 62.6, 64.2, 65.8, 67.4, 70.6, 72.2, 73.8, 75.4, 78.6, 80.2, 81.8, 83.4],
            "labels": false, "domain": false, "title": null, "tickSize": -5, "tickWidth": 1.5, "tickColor": "#555555"}},
        "y": {"field": "d", "type": "quantitative", "scale": {"domain": [-4000, 12000], "nice": false, "zero": false},
          "axis": {"orient": "left", "values": [-3600, -3200, -2800, -2400, -1600, -1200, -800, -400, 400, 800, 1200, 1600, 2400, 2800, 3200, 3600, 4400, 4800, 5200, 5600, 6400, 6800, 7200, 7600, 8400, 8800, 9200, 9600, 10400, 10800, 11200, 11600],
            "labels": false, "domain": false, "title": null, "tickSize": -8, "tickWidth": 1.5, "tickColor": "#555555"}}
      }
    },
    {
      "data": {"name": "notes"},
      "transform": [{"filter": "datum.k === 'star'"}],
      "mark": {"type": "text", "font": "Liberation Sans", "fontSize": 30, "fontWeight": "bold", "align": "center", "baseline": "alphabetic", "color": "black"},
      "encoding": {
        "x": {"field": "t", "type": "quantitative", "scale": {"domain": [5, 84.73], "nice": false, "zero": false},
          "axis": {"orient": "top", "values": [5, 13, 21, 29, 37, 45, 53, 61, 69, 77], "labels": false, "domain": true, "domainColor": "black", "domainWidth": 2.5, "title": null, "tickSize": -7, "tickWidth": 2, "tickColor": "black"}},
        "y": {"field": "I", "type": "quantitative", "scale": {"domain": [-4000, 12000], "nice": false, "zero": false},
          "axis": {"orient": "right", "values": [-4000, -2000, 0, 2000, 4000, 6000, 8000, 10000, 12000], "labels": false, "domain": false, "title": null, "tickSize": -10, "tickWidth": 2, "tickColor": "black"}},
        "text": {"field": "txt"}
      }
    },
    {
      "data": {"name": "notes"},
      "transform": [{"filter": "datum.k === 'note'"}],
      "mark": {"type": "text", "font": "Liberation Sans", "fontSize": 26, "align": "left", "baseline": "alphabetic", "color": "black"},
      "encoding": {
        "x": {"field": "t", "type": "quantitative", "scale": {"domain": [5, 84.73], "nice": false, "zero": false},
          "axis": {"orient": "top", "values": [6.6, 8.2, 9.8, 11.4, 14.6, 16.2, 17.8, 19.4, 22.6, 24.2, 25.8, 27.4, 30.6, 32.2, 33.8, 35.4, 38.6, 40.2, 41.8, 43.4, 46.6, 48.2, 49.8, 51.4, 54.6, 56.2, 57.8, 59.4, 62.6, 64.2, 65.8, 67.4, 70.6, 72.2, 73.8, 75.4, 78.6, 80.2, 81.8, 83.4],
            "labels": false, "domain": false, "title": null, "tickSize": -4, "tickWidth": 1.5, "tickColor": "#555555"}},
        "y": {"field": "I", "type": "quantitative", "scale": {"domain": [-4000, 12000], "nice": false, "zero": false},
          "axis": {"orient": "right", "values": [-3600, -3200, -2800, -2400, -1600, -1200, -800, -400, 400, 800, 1200, 1600, 2400, 2800, 3200, 3600, 4400, 4800, 5200, 5600, 6400, 6800, 7200, 7600, 8400, 8800, 9200, 9600, 10400, 10800, 11200, 11600],
            "labels": false, "domain": false, "title": null, "tickSize": -5, "tickWidth": 1.5, "tickColor": "#555555"}},
        "text": {"field": "txt"}
      }
    },
    {
      "data": {"name": "arrows"},
      "mark": {"type": "rule", "color": "black", "strokeWidth": 2},
      "encoding": {
        "x": {"field": "x1", "type": "quantitative", "scale": {"domain": [5, 84.73], "nice": false, "zero": false}, "axis": null},
        "x2": {"field": "x2"},
        "y": {"field": "y1", "type": "quantitative", "scale": {"domain": [-4000, 12000], "nice": false, "zero": false}, "axis": null},
        "y2": {"field": "y2"}
      }
    }
  ]
}
